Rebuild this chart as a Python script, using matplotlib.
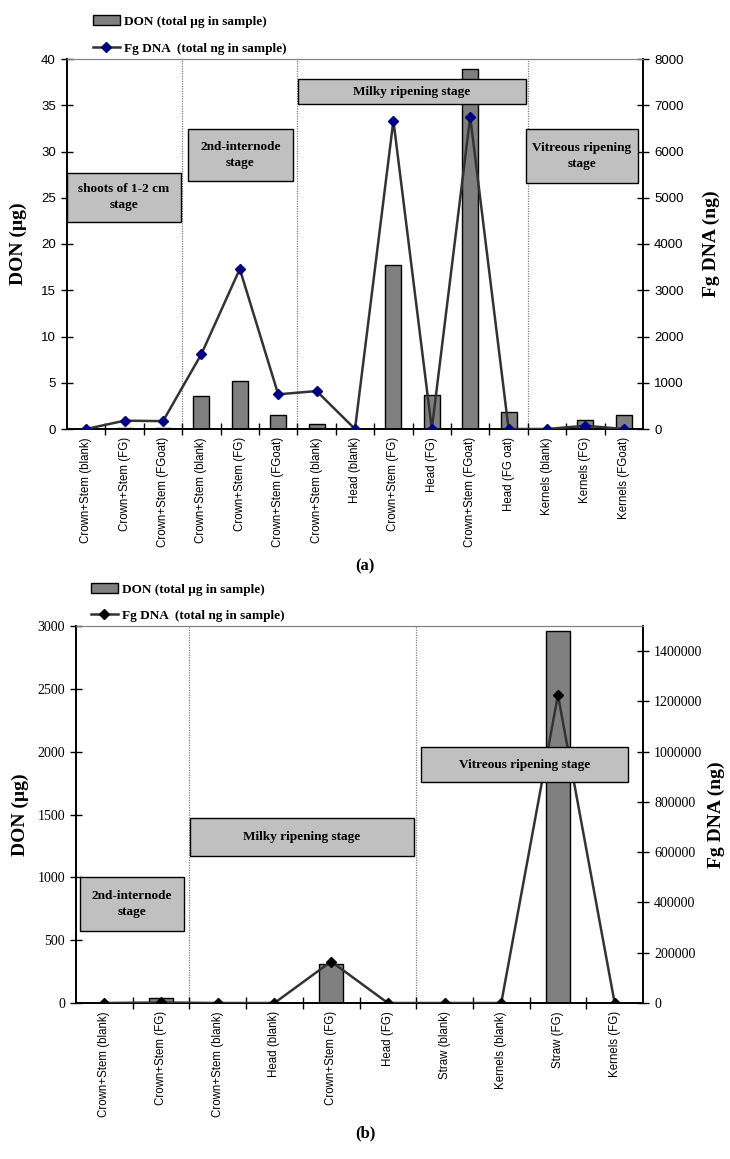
import matplotlib
matplotlib.use("Agg")
import matplotlib.pyplot as plt
from matplotlib.patches import Rectangle, Patch
from matplotlib.lines import Line2D
from matplotlib.ticker import FuncFormatter
import numpy as np

# ---------------- data (a) ----------------
cats_a = ["Crown+Stem (blank)", "Crown+Stem (FG)", "Crown+Stem (FGoat)",
          "Crown+Stem (blank)", "Crown+Stem (FG)", "Crown+Stem (FGoat)",
          "Crown+Stem (blank)", "Head (blank)", "Crown+Stem (FG)", "Head (FG)",
          "Crown+Stem (FGoat)", "Head (FG oat)",
          "Kernels (blank)", "Kernels (FG)", "Kernels (FGoat)"]
don_a = [0.0, 0.1, 0.1, 3.6, 5.2, 1.5, 0.5, 0.0, 17.7, 3.7, 38.9, 1.8, 0.05, 1.0, 1.5]
dna_a = [0, 180, 170, 1620, 3460, 750, 820, 0, 6670, 0, 6750, 0, 0, 70, 0]
stages_a = ["shoots of 1-2 cm\nstage", "2nd-internode\nstage",
            "Milky ripening stage", "Vitreous ripening\nstage"]

# ---------------- data (b) ----------------
cats_b = ["Crown+Stem (blank)", "Crown+Stem (FG)", "Crown+Stem (blank)",
          "Head (blank)", "Crown+Stem (FG)", "Head (FG)",
          "Straw (blank)", "Kernels (blank)", "Straw (FG)", "Kernels (FG)"]
don_b = [0, 40, 0, 0, 310, 0, 0, 0, 2960, 0]
dna_b = [0, 2000, 0, 0, 165000, 0, 0, 0, 1225000, 0]
stages_b = ["2nd-internode\nstage", "Milky ripening stage", "Vitreous ripening stage"]

SERIF = "Liberation Serif"
SANS = "Liberation Sans"
BAR_C = "#808080"
BOX_C = "#c0c0c0"
LINE_C = "#333333"

W, H = 730, 1159
fig = plt.figure(figsize=(W / 100, H / 100), dpi=100)


def px_axes(l, r, t, b):
    return fig.add_axes([l / W, 1 - b / H, (r - l) / W, (b - t) / H])


def style_axes(ax, ax2, n, tickfont, tfsize):
    ax.set_xlim(-0.5, n - 0.5)
    ax.set_xticks(range(n))
    ax.set_xticks(np.arange(0.5, n - 1, 1.0), minor=True)
    ax.tick_params(axis="x", which="major", length=0, pad=6)
    ax.tick_params(axis="x", which="minor", direction="inout", length=9, width=1, color="black")
    for a in (ax, ax2):
        a.tick_params(axis="y", direction="inout", length=8, width=1, labelsize=tfsize,
                      pad=4, labelfontfamily=tickfont)
        a.yaxis.set_major_formatter(FuncFormatter(lambda v, p: f"{int(round(v))}"))
        a.spines["top"].set_color("#808080")
        a.spines["top"].set_linewidth(0.8)
        for s in ("left", "right", "bottom"):
            a.spines[s].set_color("black")
            a.spines[s].set_linewidth(1.2)


def add_box(ax, ax2, x0, x1, y0, y1, text, fs=9.5):
    r = Rectangle((x0, y0), x1 - x0, y1 - y0, transform=ax.transData,
                  facecolor=BOX_C, edgecolor="black", lw=1.0, zorder=10)
    ax2.add_patch(r)
    ax2.text((x0 + x1) / 2, (y0 + y1) / 2, text, transform=ax.transData,
             ha="center", va="center", fontfamily=SERIF, fontweight="bold",
             fontsize=fs, zorder=11, linespacing=1.45)


LEG_LABELS = ["DON (total µg in sample)", "Fg DNA  (total ng in sample)"]

# ================= chart (a) =================
ax = px_axes(67, 643, 59, 429)
ax2 = ax.twinx()
n = len(cats_a)
x = np.arange(n)
ax.bar(x, don_a, width=0.42, color=BAR_C, edgecolor="black", lw=1.0, zorder=2)
ax.set_ylim(0, 40)
ax.set_yticks(range(0, 41, 5))
ax2.plot(x, dna_a, color=LINE_C, lw=1.8, marker="D", ms=5,
         markerfacecolor="#000080", markeredgecolor="#000080", zorder=5)
ax2.set_ylim(0, 8000)
ax2.set_yticks(range(0, 8001, 1000))
style_axes(ax, ax2, n, SANS, 9.5)
ax.set_xticklabels(cats_a, rotation=90, fontfamily=SANS, fontsize=8.3, va="top")
for b in (2.5, 5.5, 11.5):
    ax.axvline(b, color="#808080", ls=(0, (1, 1)), lw=0.9, zorder=1)
ax.set_ylabel("DON (µg)", fontfamily=SERIF, fontweight="bold", fontsize=14, labelpad=10)
ax2.set_ylabel("Fg DNA (ng)", fontfamily=SERIF, fontweight="bold", fontsize=14, labelpad=14)

add_box(ax, ax2, -0.5, 2.47, 22.4, 27.7, stages_a[0])
add_box(ax, ax2, 2.64, 5.39, 26.8, 32.4, stages_a[1])
add_box(ax, ax2, 5.52, 11.45, 35.1, 37.8, stages_a[2])
add_box(ax, ax2, 11.45, 14.36, 26.6, 32.4, stages_a[3])

h_a = [Patch(facecolor=BAR_C, edgecolor="black"),
       Line2D([], [], color=LINE_C, lw=1.8, marker="D", ms=5,
              markerfacecolor="#000080", markeredgecolor="#000080")]
fig.legend(h_a, LEG_LABELS,
           loc="upper left", bbox_to_anchor=(88 / W, 1 - 10 / H), frameon=False,
           prop={"family": SERIF, "weight": "bold", "size": 9.5},
           handlelength=2.0, handletextpad=0.3, labelspacing=1.15, borderaxespad=0)
fig.text(365 / W, 1 - 566 / H, "(a)", ha="center", va="center",
         fontfamily=SERIF, fontweight="bold", fontsize=12)

# ================= chart (b) =================
bx = px_axes(76, 643, 626, 1003)
bx2 = bx.twinx()
n = len(cats_b)
x = np.arange(n)
bx.bar(x, don_b, width=0.42, color=BAR_C, edgecolor="black", lw=1.0, zorder=2)
bx.set_ylim(0, 3000)
bx.set_yticks(range(0, 3001, 500))
bx2.plot(x, dna_b, color=LINE_C, lw=1.8, marker="D", ms=5,
         markerfacecolor="black", markeredgecolor="black", zorder=5)
bx2.set_ylim(0, 1500000)
bx2.set_yticks(range(0, 1400001, 200000))
style_axes(bx, bx2, n, SERIF, 10)
bx.set_xticklabels(cats_b, rotation=90, fontfamily=SANS, fontsize=8.3, va="top")
for b in (1.5, 5.5):
    bx.axvline(b, color="#808080", ls=(0, (1, 1)), lw=0.9, zorder=1)
bx.set_ylabel("DON (µg)", fontfamily=SERIF, fontweight="bold", fontsize=14, labelpad=6)
bx2.set_ylabel("Fg DNA (ng)", fontfamily=SERIF, fontweight="bold", fontsize=14, labelpad=4)

add_box(bx, bx2, -0.43, 1.40, 573, 1000, stages_b[0])
add_box(bx, bx2, 1.51, 5.46, 1170, 1472, stages_b[1])
add_box(bx, bx2, 5.58, 9.24, 1758, 2037, stages_b[2])

h_b = [Patch(facecolor=BAR_C, edgecolor="black"),
       Line2D([], [], color=LINE_C, lw=1.8, marker="D", ms=5,
              markerfacecolor="black", markeredgecolor="black")]
fig.legend(h_b, LEG_LABELS,
           loc="upper left", bbox_to_anchor=(86 / W, 1 - 578 / H), frameon=False,
           prop={"family": SERIF, "weight": "bold", "size": 9.5},
           handlelength=2.0, handletextpad=0.3, labelspacing=1.05, borderaxespad=0)
fig.text(365 / W, 1 - 1133 / H, "(b)", ha="center", va="center",
         fontfamily=SERIF, fontweight="bold", fontsize=12)

fig.savefig("out.png", dpi=100)
